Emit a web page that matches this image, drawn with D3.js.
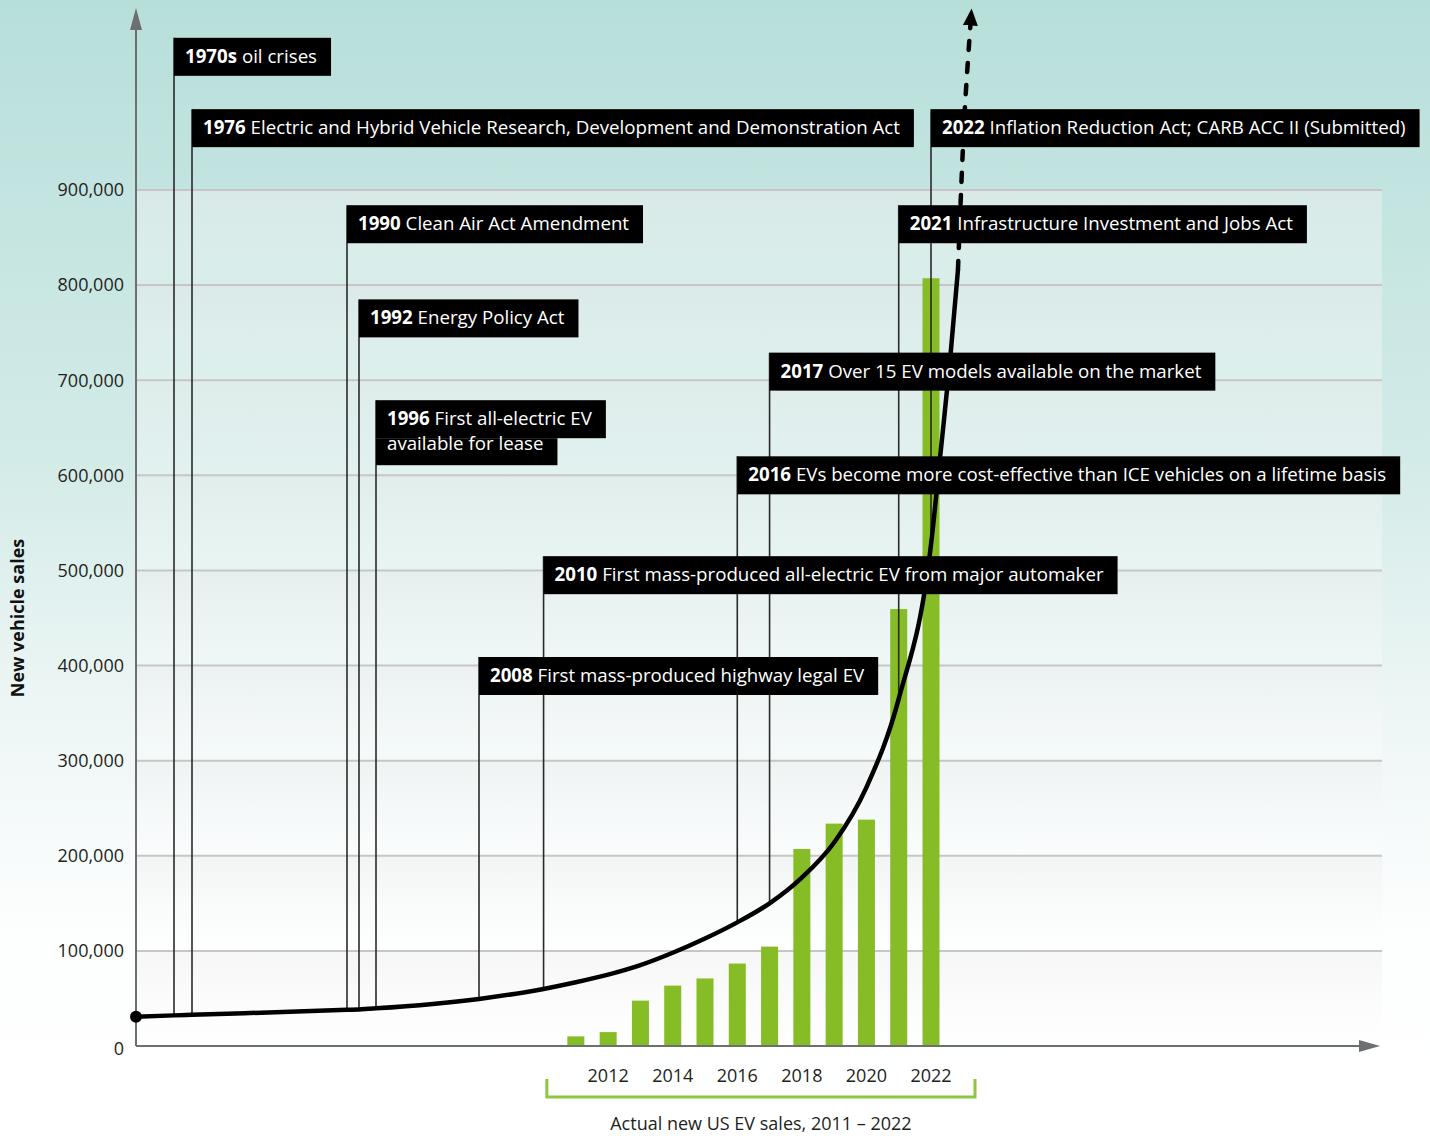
<!DOCTYPE html>
<html>
<head>
<meta charset="utf-8">
<script src="https://cdn.jsdelivr.net/npm/d3@7"></script>
<style>
  body { margin: 0; background: #fff; }
  svg { display: block; font-family: "Open Sans", "Noto Sans", sans-serif; }
</style>
</head>
<body>
<svg id="chart"></svg>
<script>
const width = 1430, height = 1140;

// Actual new US EV sales
const years = [2011, 2012, 2013, 2014, 2015, 2016, 2017, 2018, 2019, 2020, 2021, 2022];
const evSales = [10100, 14600, 47700, 63500, 71000, 86700, 104500, 207100, 233800, 238000, 459400, 807200];

const yTicks = [0, 100000, 200000, 300000, 400000, 500000, 600000, 700000, 800000, 900000];
const xTickYears = [2012, 2014, 2016, 2018, 2020, 2022];

// trend curve (solid part) and projection (dashed part)
const curveYears = [1965, 1970, 1976, 1990, 1992, 1996, 2008, 2010, 2011, 2012, 2013, 2014, 2015, 2016, 2017, 2018, 2019, 2020, 2021, 2022, 2022.3, 2022.6, 2022.835];
const curveValues = [30800, 32200, 32800, 38000, 38500, 39600, 49500, 60000, 67000, 75000, 85000, 98000, 113000, 130000, 150000, 177000, 214000, 272000, 365000, 527000, 625000, 725000, 816000];
const trendYears = [2022.835, 2023.04, 2023.22];
const trendValues = [816000, 980000, 1073000];

// timeline events
const eventYears = [1970, 1976, 1990, 1992, 1996, 2008, 2010, 2016, 2017, 2021, 2022];
const eventLabels = ["1970s", "1976", "1990", "1992", "1996", "2008", "2010", "2016", "2017", "2021", "2022"];
const eventTexts = [
  ["oil crises"],
  ["Electric and Hybrid Vehicle Research, Development and Demonstration Act"],
  ["Clean Air Act Amendment"],
  ["Energy Policy Act"],
  ["First all-electric EV", "available for lease"],
  ["First mass-produced highway legal EV"],
  ["First mass-produced all-electric EV from major automaker"],
  ["EVs become more cost-effective than ICE vehicles on a lifetime basis"],
  ["Over 15 EV models available on the market"],
  ["Infrastructure Investment and Jobs Act"],
  ["Inflation Reduction Act; CARB ACC II (Submitted)"]
];
const eventLevels = [1060000, 985000, 884000, 785000, 679000, 409000, 515000, 620000, 729000, 884000, 985000];

const plotLeft = 136, plotRight = 1382, plotBottom = 1046, plotTop = 190;

const svg = d3.select("#chart")
    .attr("width", width)
    .attr("height", height);

// timeline is compressed before 2008
const x = d3.scaleLinear()
    .domain([1965, 1970, 1976, 1990, 1992, 1996, 2008, 2036])
    .range([plotLeft, 174, 192, 347, 359, 376, 479, 1383]);

const y = d3.scaleLinear()
    .domain([0, 900000])
    .range([plotBottom, plotTop]);

const defs = svg.append("defs");

const bg = defs.append("linearGradient")
    .attr("id", "bg").attr("x1", 0).attr("y1", 0).attr("x2", 0).attr("y2", 1);
bg.append("stop").attr("offset", "0%").attr("stop-color", "#b7dfda");
bg.append("stop").attr("offset", "40%").attr("stop-color", "#d3ebe8");
bg.append("stop").attr("offset", "62%").attr("stop-color", "#edf6f5");
bg.append("stop").attr("offset", "82%").attr("stop-color", "#fdfefe");
bg.append("stop").attr("offset", "100%").attr("stop-color", "#ffffff");

const band = defs.append("linearGradient")
    .attr("id", "band").attr("x1", 0).attr("y1", 0).attr("x2", 0).attr("y2", 1);
band.append("stop").attr("offset", "0%").attr("stop-color", "#eeeeee").attr("stop-opacity", 0.5);
band.append("stop").attr("offset", "100%").attr("stop-color", "#ffffff").attr("stop-opacity", 0.3);

defs.append("marker")
    .attr("id", "trendHead")
    .attr("markerUnits", "userSpaceOnUse")
    .attr("viewBox", "0 -8 18 16")
    .attr("refX", 0).attr("refY", 0)
    .attr("markerWidth", 18).attr("markerHeight", 16)
    .attr("orient", "auto")
  .append("path")
    .attr("d", "M0,-7.5L17,0L0,7.5Z")
    .attr("fill", "#000");

svg.append("rect")
    .attr("width", width).attr("height", height)
    .attr("fill", "url(#bg)");

// gridline bands
const bands = yTicks.slice(1).map((v, i) => [yTicks[i], v]);
svg.append("g").selectAll("rect")
  .data(bands)
  .join("rect")
    .attr("x", plotLeft)
    .attr("y", d => y(d[1]))
    .attr("width", plotRight - plotLeft)
    .attr("height", d => y(d[0]) - y(d[1]))
    .attr("fill", "url(#band)");

svg.append("g").selectAll("line")
  .data(yTicks.slice(1))
  .join("line")
    .attr("x1", plotLeft).attr("x2", plotRight)
    .attr("y1", d => y(d)).attr("y2", d => y(d))
    .attr("stroke", "#c6c6c6")
    .attr("stroke-width", 2);

// y tick labels
svg.append("g").selectAll("text")
  .data(yTicks)
  .join("text")
    .attr("x", plotLeft - 12)
    .attr("y", d => y(d))
    .attr("dy", d => d === 0 ? "0.5em" : "0.35em")
    .attr("text-anchor", "end")
    .attr("font-size", 18)
    .attr("fill", "#231f20")
    .text(d => d3.format(",")(d));

svg.append("text")
    .attr("transform", `translate(24,${(plotTop + plotBottom) / 2}) rotate(-90)`)
    .attr("text-anchor", "middle")
    .attr("font-size", 18)
    .attr("font-weight", 700)
    .attr("fill", "#111")
    .text("New vehicle sales");

// bars
const barW = 17;
svg.append("g").selectAll("rect")
  .data(years)
  .join("rect")
    .attr("x", d => x(d) - barW / 2)
    .attr("y", (d, i) => y(evSales[i]))
    .attr("width", barW)
    .attr("height", (d, i) => y(0) - y(evSales[i]))
    .attr("fill", "#86bc25");

// axes
const axisColor = "#6d6e71";
svg.append("line")
    .attr("x1", plotLeft).attr("x2", plotLeft)
    .attr("y1", plotBottom).attr("y2", 28)
    .attr("stroke", axisColor).attr("stroke-width", 2);
svg.append("path")
    .attr("d", `M${plotLeft - 6},30L${plotLeft},8L${plotLeft + 6},30Z`)
    .attr("fill", axisColor);
svg.append("line")
    .attr("x1", plotLeft).attr("x2", 1362)
    .attr("y1", plotBottom).attr("y2", plotBottom)
    .attr("stroke", axisColor).attr("stroke-width", 2);
svg.append("path")
    .attr("d", `M1359,${plotBottom - 6}L1380,${plotBottom}L1359,${plotBottom + 6}Z`)
    .attr("fill", axisColor);

// x tick labels
svg.append("g").selectAll("text")
  .data(xTickYears)
  .join("text")
    .attr("x", d => x(d))
    .attr("y", 1082)
    .attr("text-anchor", "middle")
    .attr("font-size", 18)
    .attr("fill", "#231f20")
    .text(d => d);

// bracket under the actual sales years
const bL = x(years[0]) - 29, bR = x(years[years.length - 1]) + 44;
svg.append("path")
    .attr("d", `M${bL},1079V1097H${bR}V1079`)
    .attr("fill", "none")
    .attr("stroke", "#8dc63f")
    .attr("stroke-width", 3);
svg.append("text")
    .attr("x", (bL + bR) / 2)
    .attr("y", 1130)
    .attr("text-anchor", "middle")
    .attr("font-size", 18)
    .attr("fill", "#231f20")
    .text("Actual new US EV sales, 2011 – 2022");

// curve value at a given year
function curveAt(yr) {
  const i = d3.bisectRight(curveYears, yr);
  if (i <= 0) return curveValues[0];
  if (i >= curveYears.length) return curveValues[curveValues.length - 1];
  const t = (yr - curveYears[i - 1]) / (curveYears[i] - curveYears[i - 1]);
  return curveValues[i - 1] + t * (curveValues[i] - curveValues[i - 1]);
}

// event leader lines
svg.append("g").selectAll("line")
  .data(eventYears)
  .join("line")
    .attr("x1", d => x(d)).attr("x2", d => x(d))
    .attr("y1", (d, i) => y(eventLevels[i]))
    .attr("y2", d => y(curveAt(d)))
    .attr("stroke", "#2a2a2a")
    .attr("stroke-width", 1.6);

// trend curve
const line = d3.line()
    .x(d => x(d[0]))
    .y(d => y(d[1]))
    .curve(d3.curveMonotoneX);

svg.append("path")
    .datum(curveYears.map((d, i) => [d, curveValues[i]]))
    .attr("d", line)
    .attr("fill", "none")
    .attr("stroke", "#000")
    .attr("stroke-width", 4.5)
    .attr("stroke-linecap", "round");

svg.append("path")
    .datum(trendYears.map((d, i) => [d, trendValues[i]]))
    .attr("d", d3.line().x(d => x(d[0])).y(d => y(d[1])).curve(d3.curveCatmullRom))
    .attr("fill", "none")
    .attr("stroke", "#000")
    .attr("stroke-width", 4.5)
    .attr("stroke-dasharray", "9,13")
    .attr("stroke-linecap", "round")
    .attr("marker-end", "url(#trendHead)");

svg.append("circle")
    .attr("cx", x(curveYears[0]))
    .attr("cy", y(curveValues[0]))
    .attr("r", 6)
    .attr("fill", "#000");

// event label boxes
const padL = 11, padR = 14;
eventYears.forEach((yr, i) => {
  const g = svg.append("g");
  const left = x(yr);
  const top = y(eventLevels[i]);
  eventTexts[i].forEach((txt, j) => {
    const boxTop = j === 0 ? top : top + 38 + (j - 1) * 26;
    const boxH = j === 0 ? 38 : 27;
    const baseline = j === 0 ? top + 25 : top + 50 + (j - 1) * 26;
    const rect = g.append("rect").attr("fill", "#000");
    const t = g.append("text")
        .attr("x", left + padL)
        .attr("y", baseline)
        .attr("font-size", 18.7)
        .attr("fill", "#fff");
    if (j === 0) {
      t.append("tspan").attr("font-weight", 700).text(eventLabels[i]);
      t.append("tspan").text(" " + txt);
    } else {
      t.text(txt);
    }
    const w = t.node().getComputedTextLength();
    rect.attr("x", left)
        .attr("y", boxTop)
        .attr("width", w + padL + padR)
        .attr("height", boxH);
  });
});
</script>
</body>
</html>
